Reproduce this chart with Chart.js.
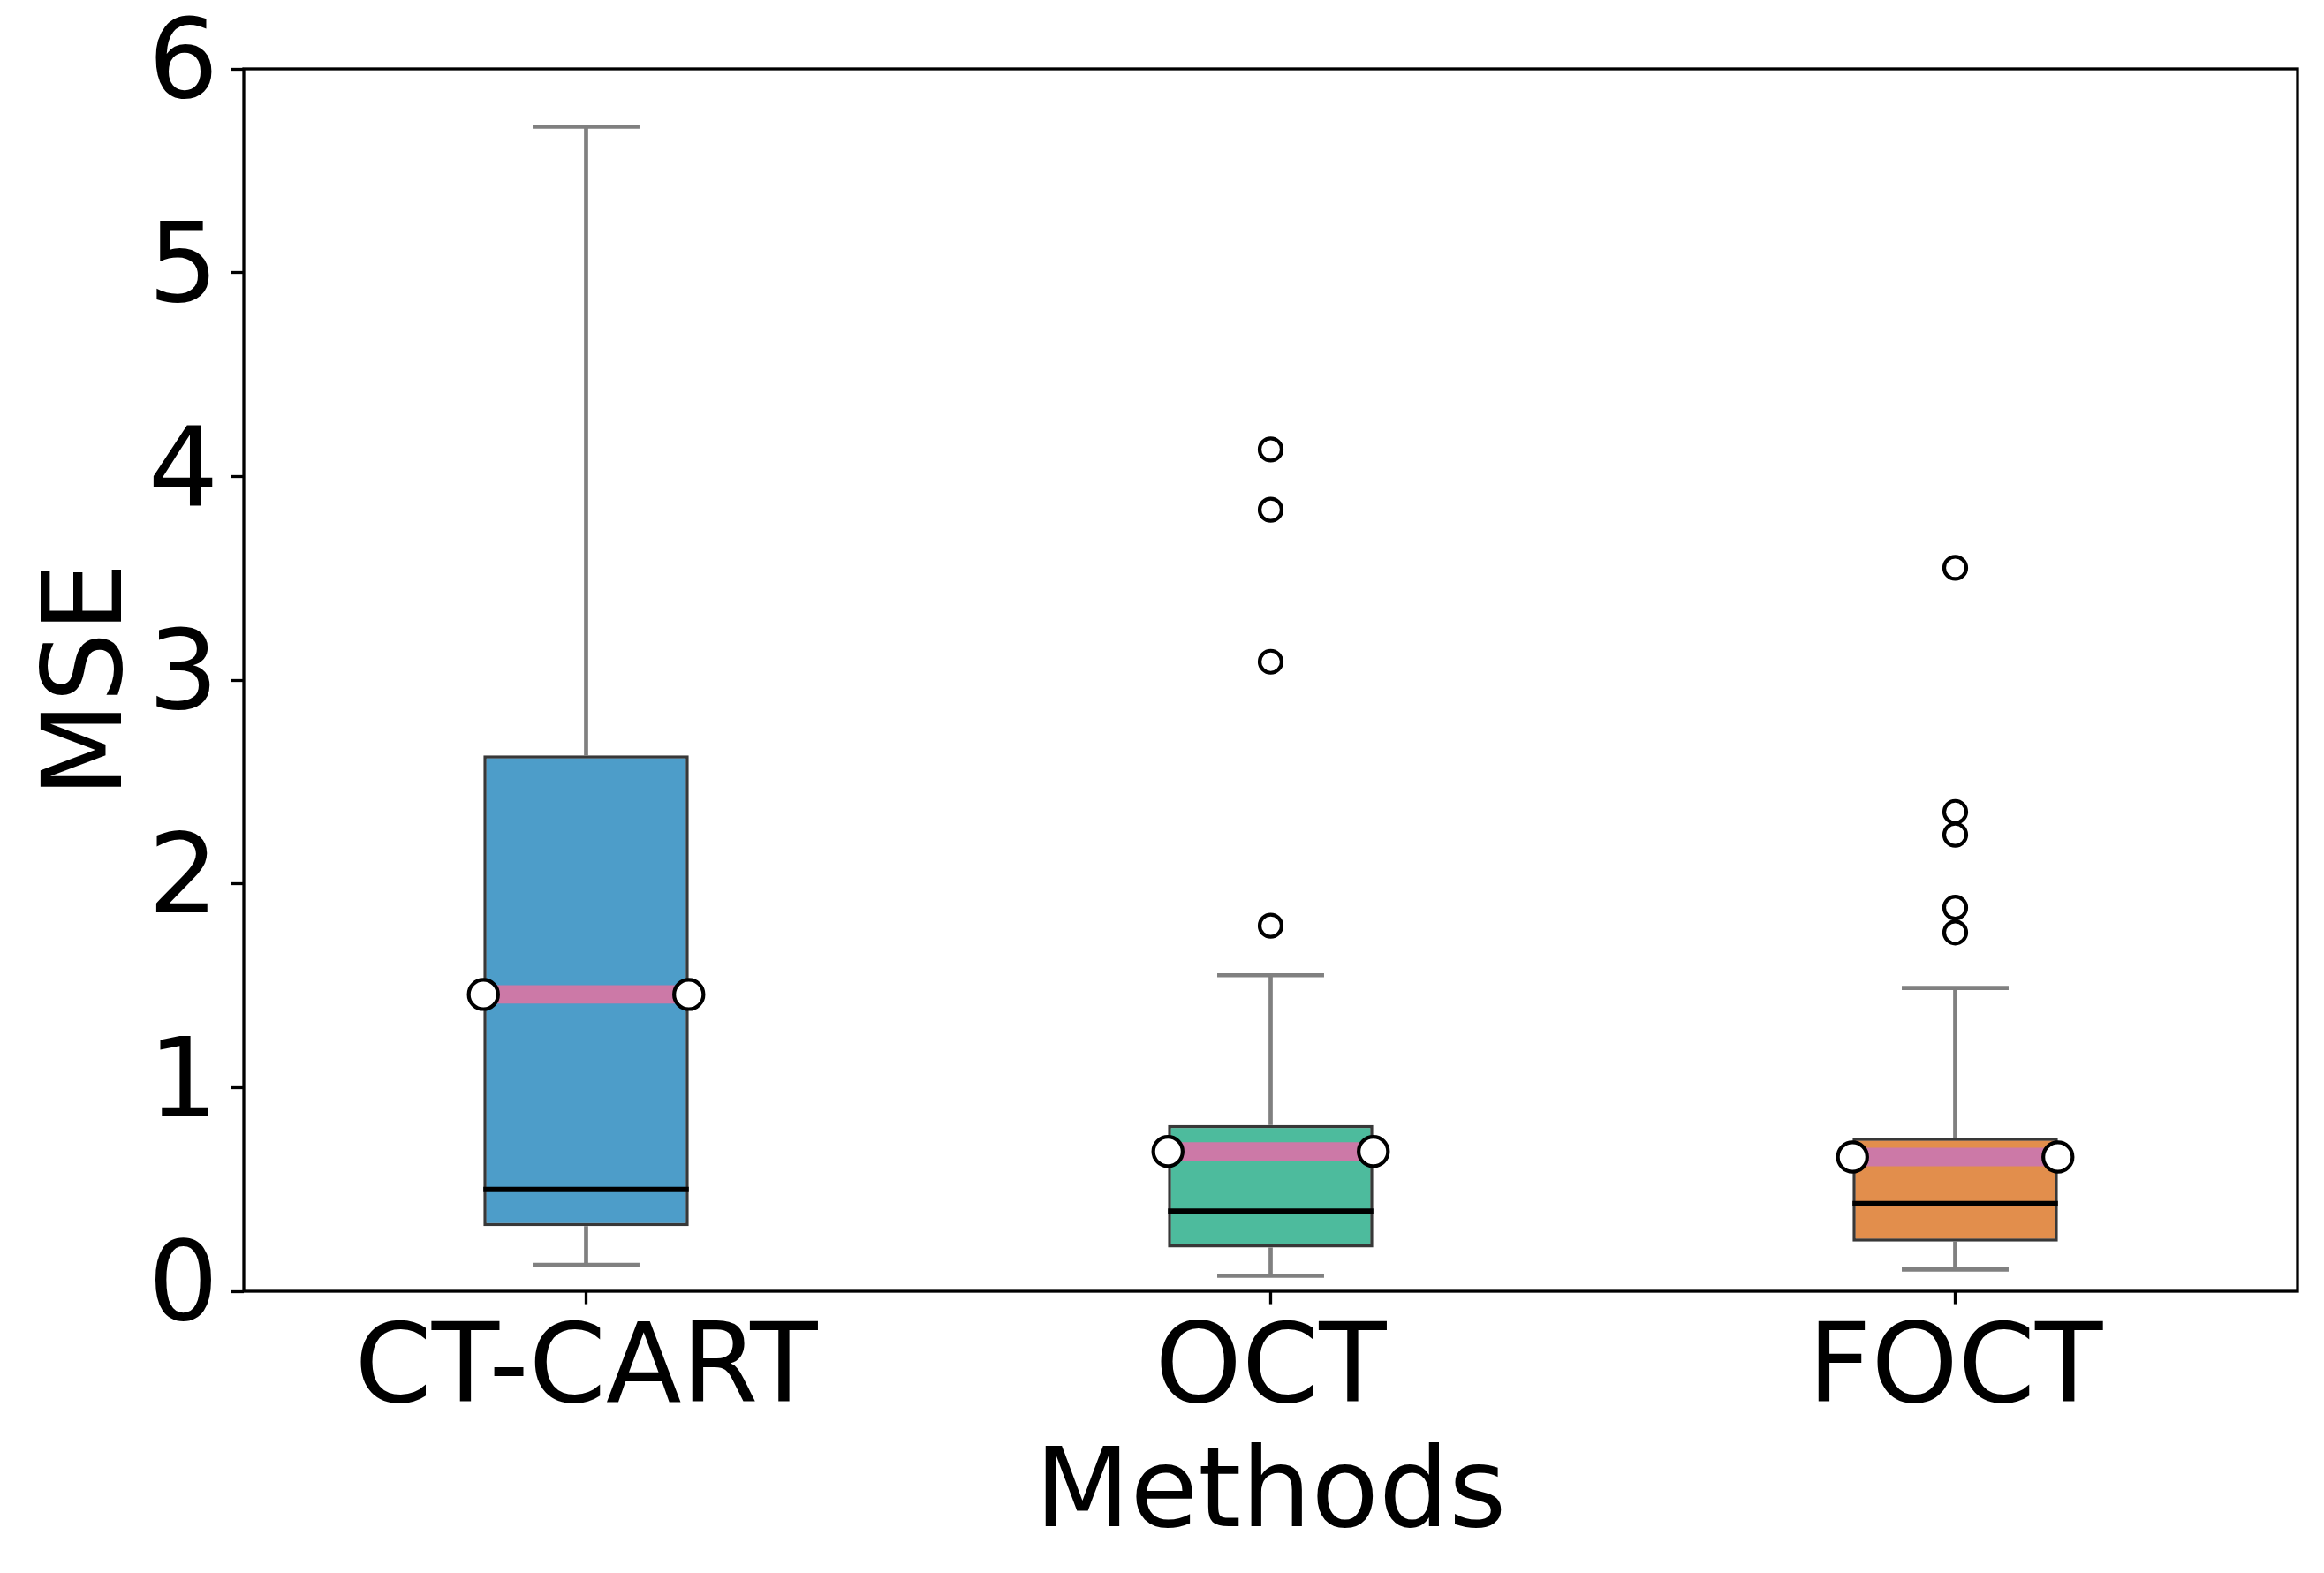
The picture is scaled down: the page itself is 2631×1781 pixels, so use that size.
<!DOCTYPE html>
<html>
<head>
<meta charset="utf-8">
<script src="https://cdn.jsdelivr.net/npm/chart.js@4.4.1/dist/chart.umd.min.js"></script>
<style>
  html, body { margin: 0; padding: 0; background: #ffffff; }
  #c { display: block; }
</style>
</head>
<body>
<canvas id="c" width="2631" height="1781"></canvas>
<script>
// ---------------- data ----------------
const methods = ['CT-CART', 'OCT', 'FOCT'];
const positions = [1, 2, 3];
const whiskerLow  = [0.13, 0.076, 0.107];
const q1Values    = [0.32, 0.215, 0.244];
const medians     = [0.50, 0.393, 0.430];
const means       = [1.457, 0.686, 0.659];
const q3Values    = [2.63, 0.816, 0.753];
const whiskerHigh = [5.717, 1.551, 1.489];
const outliersCT   = [];
const outliersOCT  = [4.132, 3.836, 3.090, 1.794];
const outliersFOCT = [3.551, 2.353, 2.241, 1.883, 1.761];
const yTicks = [0, 1, 2, 3, 4, 5, 6];

// ---------------- style ----------------
const BOX_WIDTH = 0.3;
const CAP_WIDTH = 0.15;
const FONT = '"DejaVu Sans", "Liberation Sans", sans-serif';
const boxColors = ['rgba(1,115,178,0.7)', 'rgba(2,158,115,0.7)', 'rgba(213,94,0,0.7)'];

// build helpers (derived from the arrays above)
const gap = (x) => ({ x: x, y: null });
function segments(list) {
  const out = [];
  list.forEach((s, i) => {
    if (i > 0) out.push(gap(s[0].x));
    out.push(s[0], s[1]);
  });
  return out;
}
const whiskerData = segments(positions.flatMap((p, i) => [
  [{ x: p, y: whiskerLow[i] }, { x: p, y: q1Values[i] }],
  [{ x: p, y: q3Values[i] }, { x: p, y: whiskerHigh[i] }]
]));
const capData = segments(positions.flatMap((p, i) => [
  [{ x: p - CAP_WIDTH / 2, y: whiskerLow[i] }, { x: p + CAP_WIDTH / 2, y: whiskerLow[i] }],
  [{ x: p - CAP_WIDTH / 2, y: whiskerHigh[i] }, { x: p + CAP_WIDTH / 2, y: whiskerHigh[i] }]
]));
const medianData = segments(positions.map((p, i) =>
  [{ x: p - BOX_WIDTH / 2, y: medians[i] }, { x: p + BOX_WIDTH / 2, y: medians[i] }]));
const meanLineData = segments(positions.map((p, i) =>
  [{ x: p - BOX_WIDTH / 2, y: means[i] }, { x: p + BOX_WIDTH / 2, y: means[i] }]));
const meanDotData = positions.flatMap((p, i) =>
  [{ x: p - BOX_WIDTH / 2, y: means[i] }, { x: p + BOX_WIDTH / 2, y: means[i] }]);
const outlierData = [outliersCT, outliersOCT, outliersFOCT]
  .flatMap((arr, i) => arr.map(v => ({ x: positions[i], y: v })));
const boxData = positions.map((p, i) => ({ x: p, y: [q1Values[i], q3Values[i]] }));

const framePlugin = {
  id: 'frame',
  afterDraw(chart) {
    const { ctx, chartArea: a } = chart;
    ctx.save();
    ctx.strokeStyle = '#000000';
    ctx.lineWidth = 3.3;
    ctx.strokeRect(a.left, a.top, a.right - a.left, a.bottom - a.top);
    ctx.restore();
  }
};

const lineCommon = { type: 'line', pointRadius: 0, pointHoverRadius: 0, tension: 0, spanGaps: false, fill: false };

new Chart(document.getElementById('c'), {
  type: 'bar',
  data: {
    datasets: [
      Object.assign({}, lineCommon, { label: 'whiskers', data: whiskerData, borderColor: '#808080', borderWidth: 4.7, borderCapStyle: 'butt', order: 10 }),
      { type: 'bar', label: 'box', data: boxData, backgroundColor: boxColors, borderColor: '#383838', borderWidth: 3.5,
        borderSkipped: false, grouped: false, categoryPercentage: 1, barPercentage: BOX_WIDTH, order: 9 },
      Object.assign({}, lineCommon, { label: 'caps', data: capData, borderColor: '#808080', borderWidth: 4.7, borderCapStyle: 'square', order: 8 }),
      Object.assign({}, lineCommon, { label: 'median', data: medianData, borderColor: '#000000', borderWidth: 6, borderCapStyle: 'butt', order: 7 }),
      Object.assign({}, lineCommon, { label: 'mean', data: meanLineData, borderColor: '#CC79A7', borderWidth: 20.8, borderCapStyle: 'butt', order: 6 }),
      { type: 'scatter', label: 'meanDots', data: meanDotData, pointRadius: 16.6, pointHoverRadius: 16.6,
        pointBackgroundColor: '#ffffff', pointBorderColor: '#000000', pointBorderWidth: 4.2, order: 5 },
      { type: 'scatter', label: 'outliers', data: outlierData, pointRadius: 12.5, pointHoverRadius: 12.5,
        pointBackgroundColor: '#ffffff', pointBorderColor: '#000000', pointBorderWidth: 4.2, order: 4 }
    ]
  },
  options: {
    responsive: false,
    animation: false,
    events: [],
    layout: { padding: { top: 78, right: 30, left: 0, bottom: 0 } },
    plugins: { legend: { display: false }, tooltip: { enabled: false } },
    scales: {
      x: {
        type: 'linear',
        min: 0.5,
        max: 3.5,
        offset: false,
        grid: { display: true, drawOnChartArea: false, drawTicks: true, tickLength: 14.6, tickWidth: 3.3, tickColor: '#000000', offset: false },
        border: { display: false },
        afterBuildTicks: (scale) => { scale.ticks = positions.map(v => ({ value: v })); },
        afterFit: (scale) => { scale.height = 1781 - 1462; },
        ticks: {
          autoSkip: false, maxRotation: 0, minRotation: 0,
          color: '#000000', padding: 15,
          font: { family: FONT, size: 125, lineHeight: 1 },
          callback: (value) => methods[positions.indexOf(value)]
        },
        title: { display: true, text: 'Methods', color: '#000000', font: { family: FONT, size: 125, lineHeight: 1.2 }, padding: { top: 0, bottom: 10 } }
      },
      y: {
        type: 'linear',
        min: 0,
        max: 6,
        grid: { display: true, drawOnChartArea: false, drawTicks: true, tickLength: 14.6, tickWidth: 3.3, tickColor: '#000000' },
        border: { display: false },
        afterBuildTicks: (scale) => { scale.ticks = yTicks.map(v => ({ value: v })); },
        afterFit: (scale) => { scale.width = 276; },
        ticks: { color: '#000000', padding: 14, font: { family: FONT, size: 125, lineHeight: 1 } },
        title: { display: true, text: 'MSE', color: '#000000', font: { family: FONT, size: 125, lineHeight: 1.2 }, padding: { top: 30, bottom: 0 } }
      }
    }
  },
  plugins: [framePlugin]
});
</script>
</body>
</html>
